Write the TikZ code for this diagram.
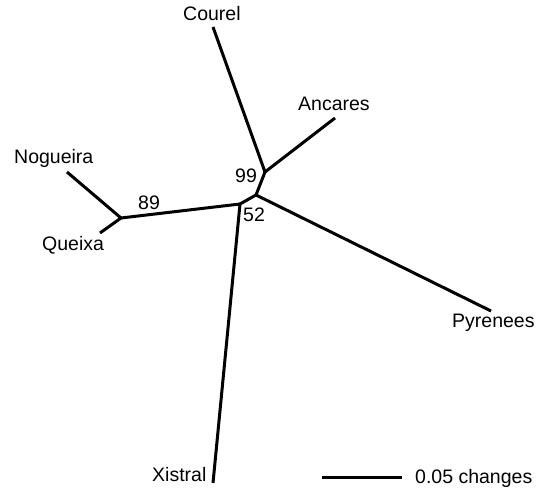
\documentclass[tikz,border=0pt]{standalone}
\usepackage{fontspec}
\setmainfont{Liberation Sans}
\begin{document}
\begin{tikzpicture}[x=1pt,y=-1pt,
  branch/.style={line width=3pt, line cap=butt, line join=miter},
  taxon/.style={inner sep=0pt, anchor=base west, font=\fontsize{19.5}{23}\selectfont},
  support/.style={inner sep=0pt, anchor=base west, font=\fontsize{19.5}{23}\selectfont}]
  \useasboundingbox (0,0) rectangle (545,489);
  % internal nodes of the tree
  \coordinate (nA) at (265,172);
  \coordinate (nB) at (256,195);
  \coordinate (nC) at (240,204);
  \coordinate (nD) at (121,218);
  % tips
  \coordinate (tCourel) at (213,27);
  \coordinate (tAncares) at (335,118);
  \coordinate (tPyrenees) at (491,311);
  \coordinate (tXistral) at (213,483);
  \coordinate (tNogueira) at (67,172);
  \coordinate (tQueixa) at (100,233);
  % branches
  \draw[branch] (tCourel) -- (nA) -- (tAncares);
  \draw[branch] (nA) -- (nB) -- (tPyrenees);
  \draw[branch] (nB) -- (nC) -- (tXistral);
  \draw[branch] (nC) -- (nD);
  \draw[branch] (tNogueira) -- (nD) -- (tQueixa);
  % taxon labels
  \node[taxon] (lCourel) at (183,21) {Courel};
  \node[taxon] (lAncares) at (298,111) {Ancares};
  \node[taxon] (lNogueira) at (14,164) {Nogueira};
  \node[taxon] (lQueixa) at (42,250) {Queixa};
  \node[taxon] (lPyrenees) at (452,327) {Pyrenees};
  \node[taxon] (lXistral) at (152,481) {Xistral};
  % bootstrap support
  \node[support] (s89) at (138,209) {89};
  \node[support] (s99) at (235,182) {99};
  \node[support] (s52) at (243,221) {52};
  % scale bar
  \coordinate (sbL) at (322,477);
  \coordinate (sbR) at (402,477);
  \draw[branch] (sbL) -- (sbR);
  \node[taxon] (lScale) at (415,483) {0.05 changes};
\end{tikzpicture}
\end{document}
